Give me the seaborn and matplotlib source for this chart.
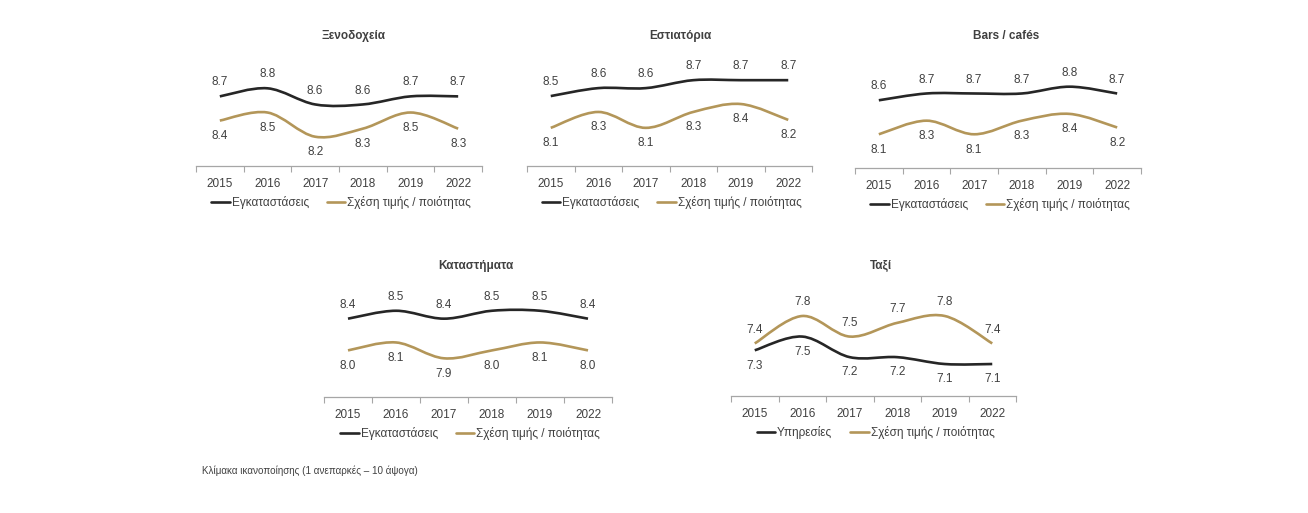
import numpy as np
import pandas as pd
import matplotlib
matplotlib.use("Agg")
import matplotlib.pyplot as plt
from matplotlib.path import Path
from matplotlib.patches import PathPatch
from matplotlib.lines import Line2D
import seaborn as sns

# ---------------- data ----------------
years = ["2015", "2016", "2017", "2018", "2019", "2022"]

titles = ["Ξενοδοχεία", "Εστιατόρια", "Bars / cafés", "Καταστήματα", "Ταξί"]

hotels_facilities = [8.7, 8.8, 8.6, 8.6, 8.7, 8.7]
hotels_value = [8.4, 8.5, 8.2, 8.3, 8.5, 8.3]

restaurants_facilities = [8.5, 8.6, 8.6, 8.7, 8.7, 8.7]
restaurants_value = [8.1, 8.3, 8.1, 8.3, 8.4, 8.2]

bars_facilities = [8.6, 8.7, 8.7, 8.7, 8.8, 8.7]
bars_value = [8.1, 8.3, 8.1, 8.3, 8.4, 8.2]

shops_facilities = [8.4, 8.5, 8.4, 8.5, 8.5, 8.4]
shops_value = [8.0, 8.1, 7.9, 8.0, 8.1, 8.0]

taxi_services = [7.3, 7.5, 7.2, 7.2, 7.1, 7.1]
taxi_value = [7.4, 7.8, 7.5, 7.7, 7.8, 7.4]

label_facilities = "Εγκαταστάσεις"
label_services = "Υπηρεσίες"
label_value = "Σχέση τιμής / ποιότητας"

footnote = "Κλίμακα ικανοποίησης (1 ανεπαρκές – 10 άψογα)"

# ---------------- style ----------------
sns.set_theme(style="white")
plt.rcParams["font.family"] = ["Liberation Sans", "DejaVu Sans"]

DARK = "#262626"
GOLD = "#b39659"
TEXT = "#404040"
AXIS = "#a6a6a6"
LW = 1.9

W, H = 1308, 513
fig = plt.figure(figsize=(W / 100, H / 100), dpi=100)
fig.patch.set_facecolor("white")


def px_axes(left, right, bottom, height):
    return fig.add_axes([left / W, 1 - bottom / H, (right - left) / W, height / H])


def smooth_path(xy):
    n = len(xy)
    verts = [xy[0]]
    codes = [Path.MOVETO]
    for i in range(n - 1):
        p0 = xy[max(i - 1, 0)]
        p1 = xy[i]
        p2 = xy[i + 1]
        p3 = xy[min(i + 2, n - 1)]
        c1 = p1 + (p2 - p0) / 6.0
        c2 = p2 - (p3 - p1) / 6.0
        verts += [c1, c2, p2]
        codes += [Path.CURVE4] * 3
    return Path(np.array(verts), codes)


panels = [
    dict(left=196, right=482, bottom=166, ylim=(7.837, 9.027), tx=353, ty=36,
         s1=hotels_facilities, s2=hotels_value, n1=label_facilities, up1=True),
    dict(left=527, right=812, bottom=166, ylim=(7.62, 8.828), tx=680, ty=36,
         s1=restaurants_facilities, s2=restaurants_value, n1=label_facilities, up1=True),
    dict(left=855, right=1141, bottom=168, ylim=(7.604, 9.016), tx=1006, ty=36,
         s1=bars_facilities, s2=bars_value, n1=label_facilities, up1=True),
    dict(left=324, right=612, bottom=397, ylim=(7.412, 8.623), tx=476, ty=266,
         s1=shops_facilities, s2=shops_value, n1=label_facilities, up1=True),
    dict(left=731, right=1016, bottom=396, ylim=(6.634, 8.033), tx=881, ty=266,
         s1=taxi_services, s2=taxi_value, n1=label_services, up1=False),
]

for title, p in zip(titles, panels):
    ax = px_axes(p["left"], p["right"], p["bottom"], 96)
    x = np.arange(len(years))
    df = pd.DataFrame({
        "x": np.concatenate([x, x]),
        "v": p["s1"] + p["s2"],
        "series": [p["n1"]] * len(years) + [label_value] * len(years),
    })
    sns.lineplot(data=df, x="x", y="v", hue="series",
                 palette={p["n1"]: DARK, label_value: GOLD},
                 linewidth=LW, ax=ax, legend=False, sort=False)
    # draw the same data points as smoothed curves (Excel-style smoothing)
    for line in list(ax.lines):
        xy = line.get_xydata()
        patch = PathPatch(smooth_path(xy), fill=False, edgecolor=line.get_color(),
                          linewidth=LW, capstyle="butt", joinstyle="round")
        ax.add_patch(patch)
        line.set_visible(False)

    for series, up in ((p["s1"], p["up1"]), (p["s2"], not p["up1"])):
        for xi, v in zip(x, series):
            ax.annotate(f"{v:.1f}", (xi, v), xytext=(0, 10 if up else -11),
                        textcoords="offset points", ha="center",
                        va="center", fontsize=8.5, color=TEXT)

    ax.set_xlim(-0.5, len(years) - 0.5)
    ax.set_ylim(*p["ylim"])
    ax.set_xticks(x)
    ax.set_xticklabels(years)
    ax.set_xticks(np.arange(-0.5, len(years)), minor=True)
    ax.tick_params(axis="x", which="major", length=0, pad=8.5, labelsize=8.5,
                   labelcolor=TEXT)
    ax.tick_params(axis="x", which="minor", length=4, width=0.8, color=AXIS,
                   direction="out", bottom=True)
    ax.set_yticks([])
    ax.set_xlabel("")
    ax.set_ylabel("")
    for side in ("top", "left", "right"):
        ax.spines[side].set_visible(False)
    ax.spines["bottom"].set_color(AXIS)
    ax.spines["bottom"].set_linewidth(0.9)
    ax.set_facecolor("none")

    fig.text(p["tx"] / W, 1 - p["ty"] / H, title, ha="center", va="center",
             fontsize=8.5, fontweight="bold", color=TEXT)

    handles = [Line2D([], [], color=DARK, lw=LW), Line2D([], [], color=GOLD, lw=LW)]
    cx = (p["left"] + p["right"]) / 2 + 2
    fig.legend(handles, [p["n1"], label_value], loc="center", ncol=2,
               bbox_to_anchor=(cx / W, 1 - (p["bottom"] + 36.5) / H),
               bbox_transform=fig.transFigure, frameon=False, fontsize=8.5,
               handlelength=1.6, handletextpad=0.15, columnspacing=1.5,
               labelcolor=TEXT, borderpad=0, borderaxespad=0)

fig.text(202 / W, 1 - 471 / H, footnote, ha="left", va="center",
         fontsize=7.1, color=TEXT)

fig.savefig("out.png", dpi=100, facecolor="white")
